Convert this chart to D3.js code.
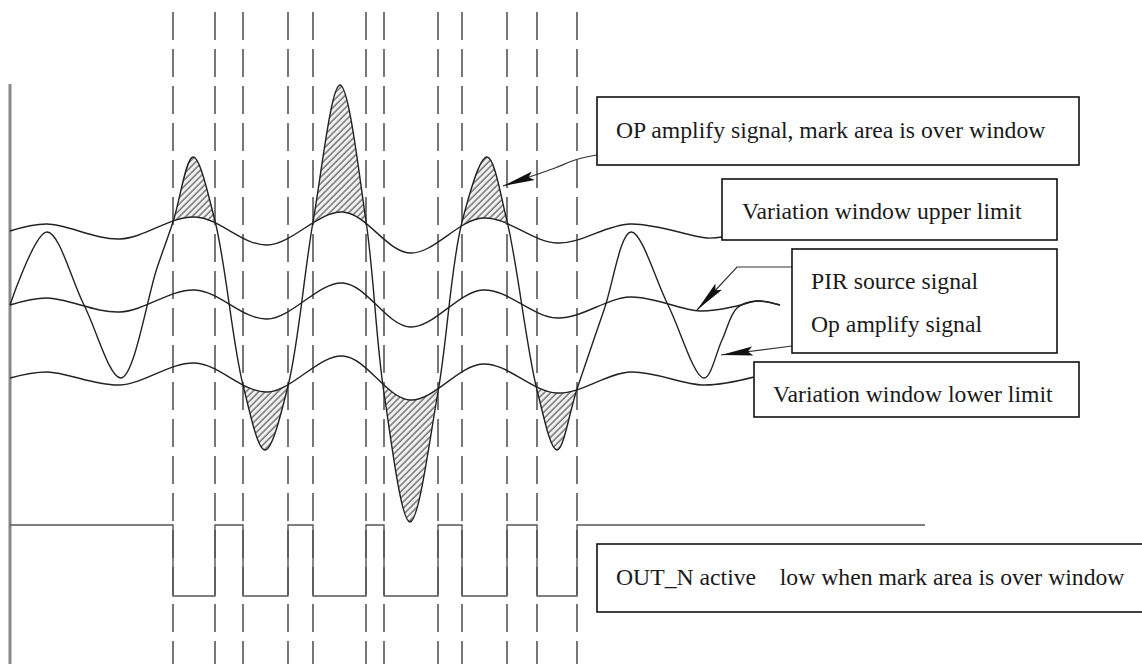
<!DOCTYPE html>
<html>
<head>
<meta charset="utf-8">
<script src="https://cdn.jsdelivr.net/npm/d3@7/dist/d3.min.js"></script>
<style>
  html, body { margin: 0; padding: 0; background: #fff; }
  svg { display: block; }
</style>
</head>
<body>
<script>
/* global d3 */

// [time, amplitude] pairs
const pirSource = [[0, 0], [37, 7], [110, -7], [185, 15], [257, -14], [333, 22], [400, -22],
  [473, 15], [547, -13], [620, 8], [690, -6], [727, -1], [747, 4], [770, 0]];

const windowUpper = [[0, 74], [37, 81], [110, 66], [185, 88], [257, 60], [333, 93], [400, 52],
  [473, 87], [547, 62], [620, 81], [697, 67], [712, 68]];

const windowLower = [[0, -73], [37, -67], [110, -80], [185, -58], [257, -87], [333, -51], [400, -95],
  [473, -59], [547, -88], [620, -67], [694, -80], [744, -72]];

const opSignal = [[0, 0], [37, 73], [74, 0], [111, -73], [147, 37], [163, 83], [183, 148], [205, 84],
  [233, -80], [255, -145], [278, -81], [303, 83], [330, 220], [356, 84], [374, -88], [400, -217],
  [428, -87], [452, 83], [477, 148], [497, 84], [527, -85], [547, -145], [567, -84], [594, -5],
  [621, 73], [658, 0], [694, -73], [712, -35], [727, -3], [747, 4], [770, 0]];

// OUT_N low intervals [start, end]
const outLow = [[163, 205], [233, 278], [303, 356], [374, 428], [452, 497], [527, 567]];
const timeEnd = 915;

// callout boxes (layout only)
const notes = [
  {lines: ['OP amplify signal, mark area is over window'], box: [597, 97, 482, 68], tx: 616, ty: [138]},
  {lines: ['Variation window upper limit'], box: [722, 179, 335, 61], tx: 742, ty: [219]},
  {lines: ['PIR source signal', 'Op amplify signal'], box: [792, 249, 265, 104], tx: 811, ty: [289, 332]},
  {lines: ['Variation window lower limit'], box: [754, 362, 325, 55], tx: 773, ty: [402]},
  {lines: ['OUT_N active    low when mark area is over window'], box: [597, 544, 560, 68], tx: 616, ty: [585]}
];

const arrows = [
  {pts: [[597, 155], [575, 160], [555, 168], [535, 175], [503, 186]], curve: d3.curveMonotoneX},
  {pts: [[792, 267], [737, 267], [697, 310]], curve: d3.curveLinear},
  {pts: [[792, 346], [721, 355]], curve: d3.curveLinear}
];

document.addEventListener('DOMContentLoaded', () => {
  const width = 1142;
  const height = 664;

  const x = d3.scaleLinear().domain([0, timeEnd]).range([10, 925]);
  const y = d3.scaleLinear().domain([-300, 300]).range([605, 5]);
  const yOut = d3.scaleLinear().domain([0, 1]).range([596, 525]);

  const curve = d3.curveCatmullRom.alpha(0.5);

  const svg = d3.select('body').append('svg')
    .attr('width', width)
    .attr('height', height);

  const defs = svg.append('defs');

  // diagonal hatching for the "over window" areas
  const pat = defs.append('pattern')
    .attr('id', 'hatch')
    .attr('patternUnits', 'userSpaceOnUse')
    .attr('width', 4.5)
    .attr('height', 4.5)
    .attr('patternTransform', 'rotate(45)');
  pat.append('rect').attr('width', 4.5).attr('height', 4.5).attr('fill', '#f2f2f2');
  pat.append('line')
    .attr('x1', 1).attr('x2', 1).attr('y1', 0).attr('y2', 4.5)
    .attr('stroke', '#555').attr('stroke-width', 1.2);

  defs.append('marker')
    .attr('id', 'head')
    .attr('markerUnits', 'userSpaceOnUse')
    .attr('viewBox', '0 -5 32 10')
    .attr('refX', 32).attr('refY', 0)
    .attr('markerWidth', 32).attr('markerHeight', 10)
    .attr('orient', 'auto')
    .append('path')
      .attr('d', 'M0,-4.5L32,0L0,4.5L5,0Z')
      .attr('fill', '#111');

  // clip regions: above the upper limit, below the lower limit
  defs.append('clipPath').attr('id', 'aboveUpper')
    .append('path')
    .attr('d', d3.area().curve(curve)
      .x(d => x(d[0])).y0(0).y1(d => y(d[1]))(windowUpper));
  defs.append('clipPath').attr('id', 'belowLower')
    .append('path')
    .attr('d', d3.area().curve(curve)
      .x(d => x(d[0])).y0(height).y1(d => y(d[1]))(windowLower));

  // vertical dashed guide lines at each OUT_N edge
  const edges = outLow.flat();
  svg.append('g')
    .selectAll('line')
    .data(edges)
    .enter().append('line')
      .attr('x1', d => x(d))
      .attr('x2', d => x(d))
      .attr('y1', 12)
      .attr('y2', height)
      .attr('stroke', '#555')
      .attr('stroke-width', 1.6)
      .attr('stroke-dasharray', '28,9');

  // left axis line
  svg.append('line')
    .attr('x1', x(0)).attr('x2', x(0))
    .attr('y1', 84).attr('y2', height)
    .attr('stroke', '#888')
    .attr('stroke-width', 3);

  // hatched parts of the amplified signal
  svg.append('path')
    .attr('d', d3.area().curve(curve)
      .x(d => x(d[0])).y0(d => y(d[1])).y1(height)(opSignal))
    .attr('fill', 'url(#hatch)')
    .attr('clip-path', 'url(#aboveUpper)');
  svg.append('path')
    .attr('d', d3.area().curve(curve)
      .x(d => x(d[0])).y0(0).y1(d => y(d[1]))(opSignal))
    .attr('fill', 'url(#hatch)')
    .attr('clip-path', 'url(#belowLower)');

  const line = d3.line().curve(curve).x(d => x(d[0])).y(d => y(d[1]));
  svg.append('g')
    .selectAll('path')
    .data([windowUpper, windowLower, pirSource, opSignal])
    .enter().append('path')
      .attr('d', line)
      .attr('fill', 'none')
      .attr('stroke', '#222')
      .attr('stroke-width', 1.4);

  // OUT_N digital output
  const outLevels = [[0, 1]];
  outLow.forEach(([a, b]) => { outLevels.push([a, 0], [b, 1]); });
  outLevels.push([timeEnd, 1]);
  svg.append('path')
    .attr('d', d3.line().curve(d3.curveStepAfter)
      .x(d => x(d[0])).y(d => yOut(d[1]))(outLevels))
    .attr('fill', 'none')
    .attr('stroke', '#555')
    .attr('stroke-width', 1.4);

  // callout arrows
  svg.append('g')
    .selectAll('path')
    .data(arrows)
    .enter().append('path')
      .attr('d', d => d3.line().curve(d.curve)(d.pts))
      .attr('fill', 'none')
      .attr('stroke', '#333')
      .attr('stroke-width', 1.2)
      .attr('marker-end', 'url(#head)');

  // callout boxes
  const note = svg.append('g')
    .selectAll('g')
    .data(notes)
    .enter().append('g');
  note.append('rect')
    .attr('x', d => d.box[0]).attr('y', d => d.box[1])
    .attr('width', d => d.box[2]).attr('height', d => d.box[3])
    .attr('fill', '#fff')
    .attr('stroke', '#111')
    .attr('stroke-width', 1.6);
  note.each(function(d) {
    d.lines.forEach((t, i) => {
      d3.select(this).append('text')
        .attr('x', d.tx)
        .attr('y', d.ty[i])
        .attr('font-family', "'Liberation Serif', 'DejaVu Serif', 'Times New Roman', Times, serif")
        .attr('font-size', 23.7)
        .attr('fill', '#1a1a1a')
        .attr('xml:space', 'preserve')
        .style('white-space', 'pre')
        .text(t);
    });
  });
}, false);
</script>
</body>
</html>
